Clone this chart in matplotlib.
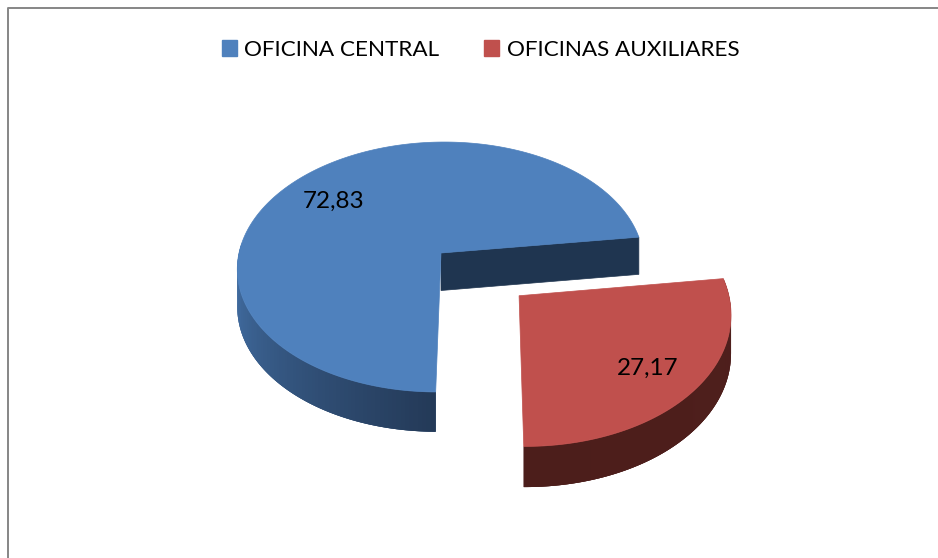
import numpy as np
import matplotlib
matplotlib.use('Agg')
import matplotlib.pyplot as plt
from matplotlib.patches import Patch
from matplotlib.colors import to_rgb

plt.rcParams['font.family'] = ['Lato', 'DejaVu Sans']

labels = ['OFICINA CENTRAL', 'OFICINAS AUXILIARES']
values = [72.83, 27.17]
value_text = ['72,83', '27,17']
colors = ['#4f81bd', '#c0504d']

W, H = 938, 558
start_deg = 7.5      # where the first slice begins
cx, cy = 441, 253    # pie centre on the page
rx, ry = 202, 123.4  # pie radii
persp = 0.112        # near edge looks bigger
skew = 0.018
depth = 37.5
explode = 0.504


def project(x, y):
    w = 1 + persp * y
    return cx + rx * (x + skew * y) / w, cy - ry * y / w, depth / np.sqrt(w)


def blend(a, b, t):
    a, b = np.array(to_rgb(a)), np.array(to_rgb(b))
    return tuple(a + (b - a) * t)


def side(ax, xs, ys, c0, c1, z):
    px, py, d = project(xs, ys)
    n = len(px)
    # solid band below, so the joins of the gradient do not show white
    ax.fill(np.r_[px, px[::-1]], np.r_[py, (py + d)[::-1]], color=blend(c0, c1, 0.5), lw=0, zorder=z)
    for i in range(n - 1):
        j = min(i + 2, n - 1)  # each piece runs over the next one
        ax.fill([px[i], px[j], px[j], px[i]],
                [py[i], py[j], py[j] + d[j], py[i] + d[i]],
                color=blend(c0, c1, i / (n - 2)), lw=0, zorder=z)


fig = plt.figure(figsize=(W / 100, H / 100), dpi=100)
ax = fig.add_axes([0, 0, 1, 1])
ax.set_xlim(0, W)
ax.set_ylim(H, 0)
ax.axis('off')

# frame, only top and left are on the picture
ax.plot([8, 8, W], [H, 8, 8], color='#868686', lw=1.4, zorder=1)

angles = np.cumsum([0] + values) / sum(values) * 360
t0, t1 = np.radians(start_deg + angles[0]), np.radians(start_deg + angles[1])
t2 = np.radians(start_deg + angles[2])

# blue slice
th = np.linspace(t0, t1, 240)
x, y = np.cos(th), np.sin(th)
vis = th >= np.pi * 0.97
side(ax, x[vis], y[vis], '#4675ad', '#243a58', 2)

# inner cut face of the blue slice
px, py, d = project(np.array([0, np.cos(t0)]), np.array([0, np.sin(t0)]))
ax.fill([px[0], px[1], px[1], px[0]],
        [py[0], py[1], py[1] + d[1], py[0] + d[0]], color='#1f3550', lw=0.5, zorder=3)

px, py, _ = project(np.r_[0, x, 0], np.r_[0, y, 0])
ax.fill(px, py, color=colors[0], lw=0.5, zorder=4)

# red slice, pulled away from the centre
mid = (t1 + t2) / 2
ox, oy = explode * np.cos(mid), explode * np.sin(mid)
th = np.linspace(t1, t2, 120)
x, y = np.cos(th) + ox, np.sin(th) + oy
side(ax, x[::-1], y[::-1], '#4f1f1c', '#4c1e1b', 5)

px, py, _ = project(np.r_[ox, x, ox], np.r_[oy, y, oy])
ax.fill(px, py, color=colors[1], lw=0.5, zorder=6)

ax.text(333.5, 201, value_text[0], fontsize=17.5, ha='center', va='center', color='black', zorder=7)
ax.text(647.5, 368, value_text[1], fontsize=17.5, ha='center', va='center', color='black', zorder=7)

handles = [Patch(color=c, label=l) for c, l in zip(colors, labels)]
fig.legend(handles=handles, loc='center', bbox_to_anchor=(480.5 / W, 1 - 50 / H), ncol=2, frameon=False,
           fontsize=16.2, handlelength=0.67, handleheight=0.67, handletextpad=0.32, columnspacing=2.0)

fig.savefig('out.png', dpi=100)
